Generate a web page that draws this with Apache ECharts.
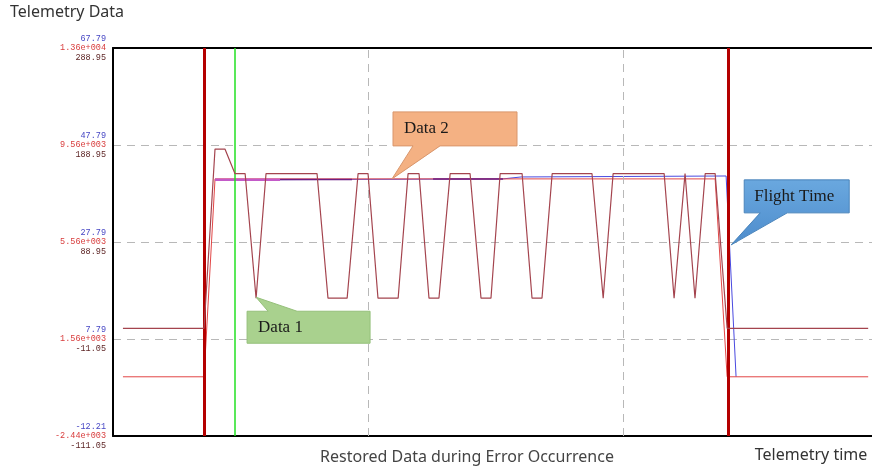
<!DOCTYPE html>
<html><head><meta charset="utf-8">
<script src="https://cdn.jsdelivr.net/npm/echarts@6/dist/echarts.min.js"></script>
<style>html,body{margin:0;padding:0;background:#fff}#c{width:872px;height:467px}</style>
</head><body><div id="c"></div>
<script>
// Tick labels (top to bottom) for the three stacked scales
const blueTicks = ['67.79', '47.79', '27.79', '7.79', '-12.21'];
const redTicks = ['1.36e+004', '9.56e+003', '5.56e+003', '1.56e+003', '-2.44e+003'];
const darkTicks = ['288.95', '188.95', '88.95', '-11.05', '-111.05'];

// Series values [time, value] on the dark (-111.05 .. 288.95) scale
const data1Maroon = [[3.9,0],[35.7,0],[40.0,184.8],[43.9,184.8],[47.8,159.5],[51.8,159.5],[56.1,31],[60.0,159.5],[80.0,159.5],[84.3,31],[91.8,31],[96.1,159.5],[100.0,159.5],[103.9,31],[111.8,31],[115.7,159.5],[120.0,159.5],[123.9,31],[127.8,31],[132.2,159.5],[140.0,159.5],[144.3,31],[148.2,31],[151.8,159.5],[160.4,159.5],[164.3,31],[168.2,31],[172.2,159.5],[187.8,159.5],[192.2,31],[196.1,159.5],[216.1,159.5],[220.0,31],[224.3,159.5],[228.2,31],[232.2,159.5],[236.1,159.5],[240.8,0],[296.1,0]];
const data2Red = [[3.9,-50],[35.7,-50],[40.0,154],[236.1,154],[240.8,-50],[296.1,-50]];
const blueLine = [[40.0,153],[152.9,154],[160.0,156],[240.4,157],[244.3,-50]];
const purpleLight = [[40.0,153],[65.5,153]];
const purpleDarkA = [[65.5,153.5],[93.7,153.5]];
const purpleDarkB = [[125.5,154],[152.9,154]];

// Event markers (time) and vertical grid times
const errorStart = 35.7;
const errorEnd = 241.2;
const greenMark = 47.8;
const timeGrid = [100, 200];

// Callout anchor points
const data1Tip = [56.1, 32];
const data2Tip = [109.4, 154];
const flightTip = [242.4, 86];

const chart = echarts.init(document.getElementById('c'), null, {renderer: 'canvas'});
const sans = '"Noto Sans", "DejaVu Sans", sans-serif';
const mono = '"Liberation Mono", "DejaVu Sans Mono", monospace';
const serif = '"Liberation Serif", "DejaVu Serif", serif';

chart.setOption({
  animation: false,
  backgroundColor: '#fff',
  grid: {left: 113, top: 48, bottom: 31, right: 0, containLabel: false},
  xAxis: [{
    type: 'value', min: 0, max: 297.6,
    axisLine: {show: true, onZero: false, lineStyle: {color: '#000', width: 2}},
    axisTick: {show: false}, axisLabel: {show: false}, splitLine: {show: false}
  }, {
    type: 'value', position: 'top', min: 0, max: 297.6,
    axisLine: {show: true, onZero: false, lineStyle: {color: '#000', width: 2}},
    axisTick: {show: false}, axisLabel: {show: false}, splitLine: {show: false}
  }],
  yAxis: {
    type: 'value', min: -111.05, max: 288.95, interval: 100,
    axisLine: {show: true, onZero: false, lineStyle: {color: '#000', width: 2}},
    axisTick: {show: false},
    splitLine: {show: true, lineStyle: {color: '#b8b8b8', type: [8, 6], width: 1}},
    axisLabel: {
      margin: 7,
      formatter: function (v) {
        const i = Math.round((288.95 - v) / 100);
        return '{b|' + blueTicks[i] + '}\n{r|' + redTicks[i] + '}\n{d|' + darkTicks[i] + '}';
      },
      rich: {
        b: {color: '#4646c4', fontFamily: mono, fontSize: 8.5, lineHeight: 9.5, align: 'right'},
        r: {color: '#d83c3c', fontFamily: mono, fontSize: 8.5, lineHeight: 9.5, align: 'right'},
        d: {color: '#5e2626', fontFamily: mono, fontSize: 8.5, lineHeight: 9.5, align: 'right'}
      }
    }
  },
  series: [
    {type: 'line', data: [], symbol: 'none', z: 1,
      markLine: {
        silent: true, symbol: 'none', label: {show: false},
        lineStyle: {color: '#b8b8b8', type: [8, 6], width: 1},
        data: timeGrid.map(function (t) { return {xAxis: t}; })
      }
    },
    {type: 'line', data: blueLine, symbol: 'none', lineStyle: {color: '#4a4ae0', width: 1}, z: 2},
    {type: 'line', data: data2Red, symbol: 'none', lineStyle: {color: '#e24646', width: 1}, z: 3},
    {type: 'line', data: purpleLight, symbol: 'none', lineStyle: {color: '#c35ac8', width: 2.5}, z: 4},
    {type: 'line', data: purpleDarkA, symbol: 'none', lineStyle: {color: '#6e1e82', width: 1.5}, z: 4},
    {type: 'line', data: purpleDarkB, symbol: 'none', lineStyle: {color: '#6e1e82', width: 1.5}, z: 4},
    {type: 'line', data: data1Maroon, symbol: 'none', lineStyle: {color: '#a4444e', width: 1.2}, z: 5},
    {type: 'line', data: [], symbol: 'none', z: 6,
      markLine: {
        silent: true, symbol: 'none', label: {show: false},
        emphasis: {disabled: true},
        data: [
          {xAxis: errorStart, lineStyle: {color: '#b40000', width: 3, type: 'solid', opacity: 1}},
          {xAxis: errorEnd, lineStyle: {color: '#b40000', width: 3, type: 'solid', opacity: 1}},
          {xAxis: greenMark, lineStyle: {color: '#22e022', width: 1.5, type: 'solid', opacity: 1}}
        ]
      }
    }
  ]
});

function px(p) { return chart.convertToPixel({xAxisIndex: 0, yAxisIndex: 0}, p); }

function callout(tipVal, box, notch, edge, fill, stroke, text, textPad) {
  const t = px(tipVal);
  const L = t[0] + box.dx, T = t[1] + box.dy, R = L + box.w, B = T + box.h;
  const n1 = t[0] + notch[0], n2 = t[0] + notch[1];
  let pts;
  if (edge === 'bottom') {
    pts = [[L, T], [R, T], [R, B], [n2, B], [t[0], t[1]], [n1, B], [L, B]];
  } else {
    pts = [[L, T], [n1, T], [t[0], t[1]], [n2, T], [R, T], [R, B], [L, B]];
  }
  return [
    {type: 'polygon', shape: {points: pts}, style: {fill: fill, stroke: stroke, lineWidth: 1}, z: 50},
    {type: 'text', x: L + textPad, y: (T + B) / 2, z: 51,
      style: {text: text, font: '17px ' + serif, fill: '#1a1a1a', textVerticalAlign: 'middle', verticalAlign: 'middle'}}
  ];
}

const flightFill = new echarts.graphic.LinearGradient(0, 0, 0, 1, [
  {offset: 0, color: '#6aa8df'}, {offset: 1, color: '#4d8ccc'}]);

const graphics = [].concat(
  callout(data2Tip, {dx: 1, dy: -67, w: 124, h: 34}, [21, 48], 'bottom', '#f4b183', '#d9966c', 'Data 2', 11),
  callout(data1Tip, {dx: -9, dy: 14, w: 123, h: 32}, [12, 41], 'top', '#a9d18e', '#95c07a', 'Data 1', 11),
  callout(flightTip, {dx: 13, dy: -65, w: 105, h: 33}, [29, 56], 'bottom', flightFill, '#4a84bb', 'Flight Time', 10),
  [
    {type: 'text', left: 10, top: 4, style: {text: 'Telemetry Data', font: '16px ' + sans, fill: '#333'}},
    {type: 'text', x: 467, y: 457, style: {text: 'Restored Data during Error Occurrence', font: '16px ' + sans, fill: '#444', textAlign: 'center', align: 'center', textVerticalAlign: 'middle', verticalAlign: 'middle'}},
    {type: 'text', x: 811, y: 455, style: {text: 'Telemetry time', font: '16px ' + sans, fill: '#333', textAlign: 'center', align: 'center', textVerticalAlign: 'middle', verticalAlign: 'middle'}}
  ]
);
chart.setOption({graphic: graphics});
</script>
</body></html>
